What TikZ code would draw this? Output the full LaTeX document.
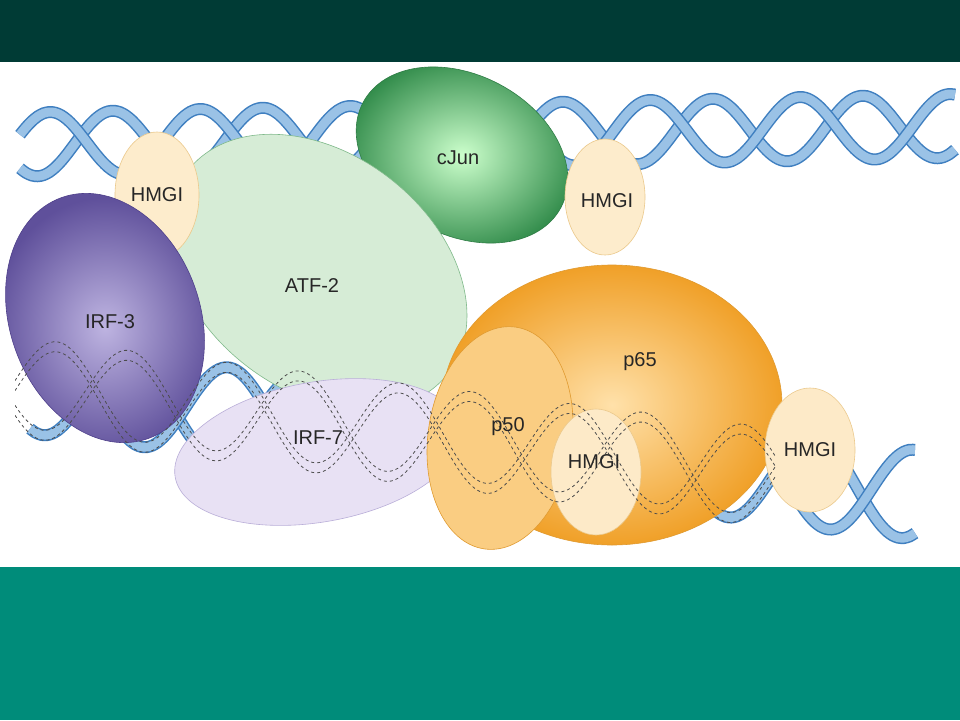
\documentclass[tikz,border=0pt]{standalone}
\usepackage{fontspec}
\setmainfont{Liberation Sans}
\definecolor{topbar}{HTML}{003B35}
\definecolor{botbar}{HTML}{008C7A}
\definecolor{dnablue}{HTML}{6FA8DC}
\definecolor{dnaedge}{HTML}{3F7FC0}
\definecolor{greenedge}{HTML}{7FB98A}
\definecolor{cjunedge}{HTML}{2E7D45}
\definecolor{creamedge}{HTML}{EBC98C}
\definecolor{violetedge}{HTML}{4E3F8A}
\definecolor{lavedge}{HTML}{B9AED8}
\definecolor{orangeedge}{HTML}{E09A30}
\tikzset{
  prot/.style={draw=#1, line width=0.6pt},
  lbl/.style={font=\fontsize{20}{20}\selectfont, text=black!85},
  strand/.style={line width=12pt, draw=dnaedge},
  strandin/.style={line width=9pt, draw=dnablue!70!white},
  hidden/.style={dashed, line width=0.8pt, draw=black!70}
}
\begin{document}
\begin{tikzpicture}[x=1pt, y=-1pt]
\useasboundingbox (0,0) rectangle (960,720);
\fill[topbar] (0,0) rectangle (960,62);
\fill[white] (0,62) rectangle (960,567);
\fill[botbar] (0,567) rectangle (960,720);
% top helix
\foreach \ph in {0,150}{
  \draw[strand] plot[domain=20:955, samples=160, smooth] (\x, {145 - 0.02*\x + 32*sin(2.4*\x + \ph)});
  \draw[strandin] plot[domain=20:955, samples=160, smooth] (\x, {145 - 0.02*\x + 32*sin(2.4*\x + \ph)});
}
% bottom helix
\foreach \ph in {0,150}{
  \draw[strand] plot[domain=30:915, samples=160, smooth] (\x, {385 + 0.12*\x + 45*sin(2.1*\x + \ph)});
  \draw[strandin] plot[domain=30:915, samples=160, smooth] (\x, {385 + 0.12*\x + 45*sin(2.1*\x + \ph)});
}
% proteins
\draw[prot=cjunedge, shading=radial, inner color=green!20!white, outer color={rgb,255:red,50;green,140;blue,75}] (462,155) [rotate around={-28:(462,155)}] ellipse (112 and 80);
\draw[prot=greenedge, fill={rgb,255:red,214;green,236;blue,214}] (318,272) [rotate around={-38:(318,272)}] ellipse (165 and 118);
\draw[prot=creamedge, fill={rgb,255:red,253;green,236;blue,204}] (157,195) ellipse (42 and 63);
\draw[prot=violetedge, shading=radial, inner color={rgb,255:red,190;green,180;blue,225}, outer color={rgb,255:red,95;green,80;blue,155}] (105,318) [rotate around={20:(105,318)}] ellipse (95 and 128);
\draw[prot=lavedge, fill={rgb,255:red,232;green,225;blue,244}] (318,452) [rotate around={10:(318,452)}] ellipse (145 and 70);
\draw[prot=creamedge, fill={rgb,255:red,253;green,236;blue,204}] (605,197) ellipse (40 and 58);
\draw[prot=orangeedge, shading=radial, inner color={rgb,255:red,255;green,225;blue,170}, outer color={rgb,255:red,240;green,160;blue,40}] (612,405) ellipse (170 and 140);
\draw[prot=orangeedge, fill={rgb,255:red,250;green,205;blue,130}] (500,438) [rotate around={-8:(500,438)}] ellipse (72 and 112);
\draw[prot=creamedge, fill={rgb,255:red,253;green,234;blue,200}] (596,472) ellipse (45 and 63);
\draw[prot=creamedge, fill={rgb,255:red,253;green,234;blue,200}] (810,450) ellipse (45 and 62);
% DNA behind proteins
\begin{scope}
\clip (15,250) rectangle (775,560);
\foreach \ph in {0,150}{
  \draw[hidden] plot[domain=15:780, samples=140, smooth] (\x, {380 + 0.12*\x + 45*sin(2.1*\x + \ph)});
  \draw[hidden] plot[domain=15:780, samples=140, smooth] (\x, {390 + 0.12*\x + 45*sin(2.1*\x + \ph)});
}
\end{scope}
% labels
\node[lbl] (cjun) at (458,158) {cJun};
\node[lbl] (atf) at (312,286) {ATF-2};
\node[lbl] (hmgia) at (157,195) {HMGI};
\node[lbl] (hmgib) at (607,201) {HMGI};
\node[lbl] (irf3) at (110,322) {IRF-3};
\node[lbl] (irf7) at (318,438) {IRF-7};
\node[lbl] (p65) at (640,362) {p65};
\node[lbl] (p50) at (508,427) {p50};
\node[lbl] (hmgic) at (594,462) {HMGI};
\node[lbl] (hmgid) at (810,450) {HMGI};
\end{tikzpicture}
\end{document}
